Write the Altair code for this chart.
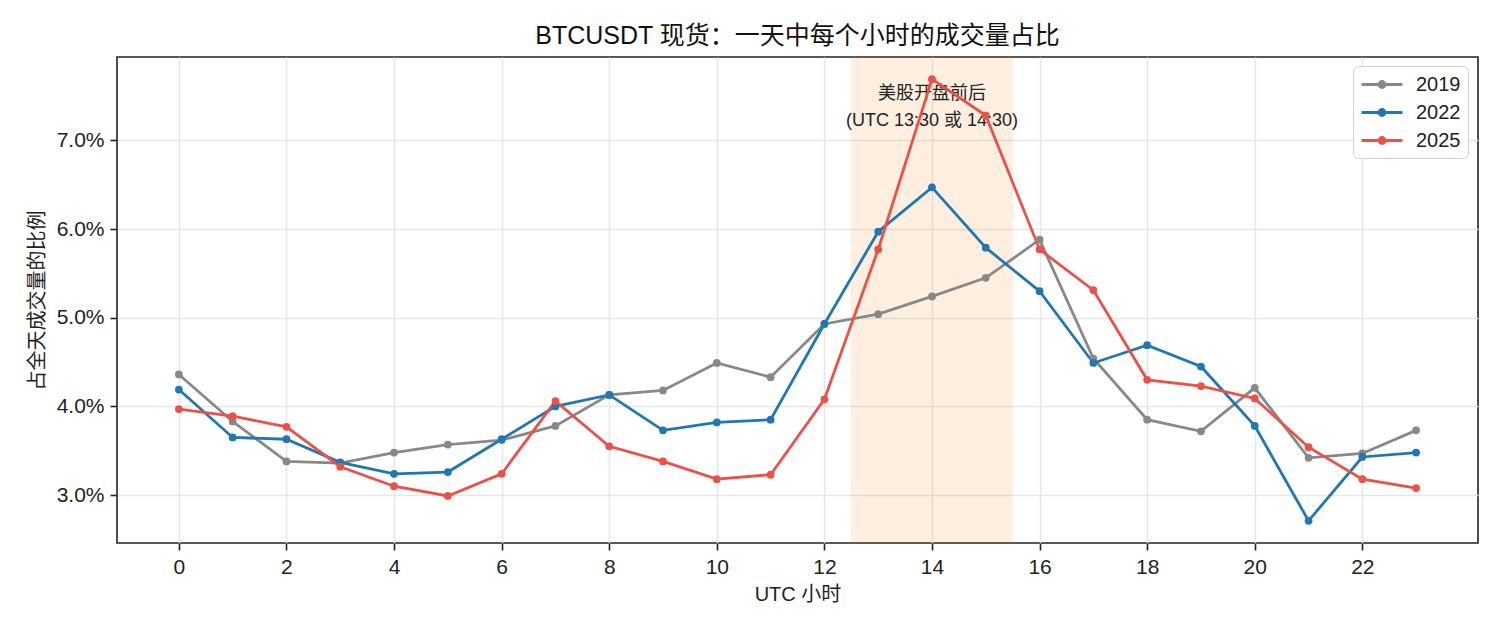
import altair as alt
import pandas as pd

FONT = "Liberation Sans, Noto Sans CJK SC"

hours = list(range(24))
years = ["2019", "2022", "2025"]
palette = ["#888888", "#1f77b4", "#eb5149"]

share_2019 = [4.36, 3.83, 3.38, 3.36, 3.48, 3.57, 3.62, 3.78, 4.13, 4.18, 4.49, 4.33,
              4.93, 5.04, 5.24, 5.45, 5.88, 4.54, 3.85, 3.72, 4.21, 3.42, 3.47, 3.73]
share_2022 = [4.19, 3.65, 3.63, 3.37, 3.24, 3.26, 3.63, 4.00, 4.13, 3.73, 3.82, 3.85,
              4.93, 5.97, 6.47, 5.79, 5.30, 4.49, 4.69, 4.45, 3.78, 2.71, 3.43, 3.48]
share_2025 = [3.97, 3.89, 3.77, 3.32, 3.10, 2.99, 3.24, 4.06, 3.55, 3.38, 3.18, 3.23,
              4.08, 5.77, 7.69, 7.28, 5.77, 5.31, 4.30, 4.23, 4.09, 3.54, 3.18, 3.08]

band_start = [12.5]
band_end = [15.5]
note_lines = ["美股开盘前后", "(UTC 13:30 或 14:30)"]
note_hour = [14, 14]
note_y = [7.52, 7.22]

x_ticks = list(range(0, 23, 2))
y_ticks = [3, 4, 5, 6, 7]

rows = []
for year, series in zip(years, [share_2019, share_2022, share_2025]):
    for h, v in zip(hours, series):
        rows.append({"hour": h, "share": v, "year": year})
df = pd.DataFrame(rows)

x_enc = alt.X(
    "hour:Q",
    title="UTC 小时",
    scale=alt.Scale(domain=[-1.15, 24.15], nice=False, zero=False),
    axis=alt.Axis(values=x_ticks, format="d", titlePadding=7),
)
y_enc = alt.Y(
    "share:Q",
    title="占全天成交量的比例",
    scale=alt.Scale(domain=[2.46, 7.94], nice=False, zero=False),
    axis=alt.Axis(values=y_ticks, labelExpr="format(datum.value, '.1f') + '%'", titlePadding=9),
)
color_scale = alt.Scale(domain=years, range=palette)

band = (
    alt.Chart(pd.DataFrame({"start": band_start, "end": band_end}))
    .mark_rect(color="#ff7f0e", opacity=0.12, stroke="#ff7f0e", strokeOpacity=0.6, strokeWidth=1.5)
    .encode(x=alt.X("start:Q", scale=alt.Scale(domain=[-1.15, 24.15], nice=False)), x2="end:Q")
)

note = (
    alt.Chart(pd.DataFrame({"text": note_lines, "hour": note_hour, "share": note_y}))
    .mark_text(font=FONT, fontSize=18, color="#222222", baseline="middle", align="center")
    .encode(x="hour:Q", y="share:Q", text="text:N")
)

legend_path = (
    "M-1,0L3.1,0"
    "M1.35,0A0.3,0.3 0 1,1 0.75,0A0.3,0.3 0 1,1 1.35,0"
    "M1.2,0A0.15,0.15 0 1,1 0.9,0A0.15,0.15 0 1,1 1.2,0"
)

lines = (
    alt.Chart(df)
    .mark_line(strokeWidth=2.8)
    .encode(
        x=x_enc,
        y=y_enc,
        color=alt.Color(
            "year:N",
            scale=color_scale,
            legend=alt.Legend(
                title=None,
                orient="none",
                legendX=1236,
                legendY=9,
                symbolType=legend_path,
                symbolSize=400,
                symbolStrokeWidth=2.8,
                labelOffset=33,
                labelFont=FONT,
                labelFontSize=20,
                labelColor="#222222",
                rowPadding=6,
                padding=7,
                strokeColor="#d0d0d0",
                fillColor="white",
                cornerRadius=5,
            ),
        ),
    )
)

points = (
    alt.Chart(df)
    .mark_circle(size=60, opacity=1)
    .encode(x="hour:Q", y="share:Q", color=alt.Color("year:N", scale=color_scale, legend=None))
)

chart = (
    alt.layer(band, note, lines, points)
    .properties(
        width=1361,
        height=486,
        autosize=alt.AutoSizeParams(type="none"),
        padding={"left": 109, "top": 49, "right": 10, "bottom": 70},
        title=alt.Title(
            "BTCUSDT 现货：一天中每个小时的成交量占比",
            font=FONT,
            fontSize=25,
            fontWeight="normal",
            color="#111111",
            offset=7,
        ),
    )
    .configure_view(stroke="#222222", strokeWidth=1.6)
    .configure_axis(
        domain=False,
        grid=True,
        gridColor="#e6e6e6",
        gridWidth=1.5,
        tickColor="#222222",
        tickSize=7,
        tickWidth=1.6,
        labelPadding=6,
        labelFont=FONT,
        labelFontSize=21,
        labelColor="#222222",
        titleFont=FONT,
        titleFontSize=20,
        titleFontWeight="normal",
        titleColor="#222222",
    )
)

chart.save("out.html", embed_options={"renderer": "svg", "actions": False})
